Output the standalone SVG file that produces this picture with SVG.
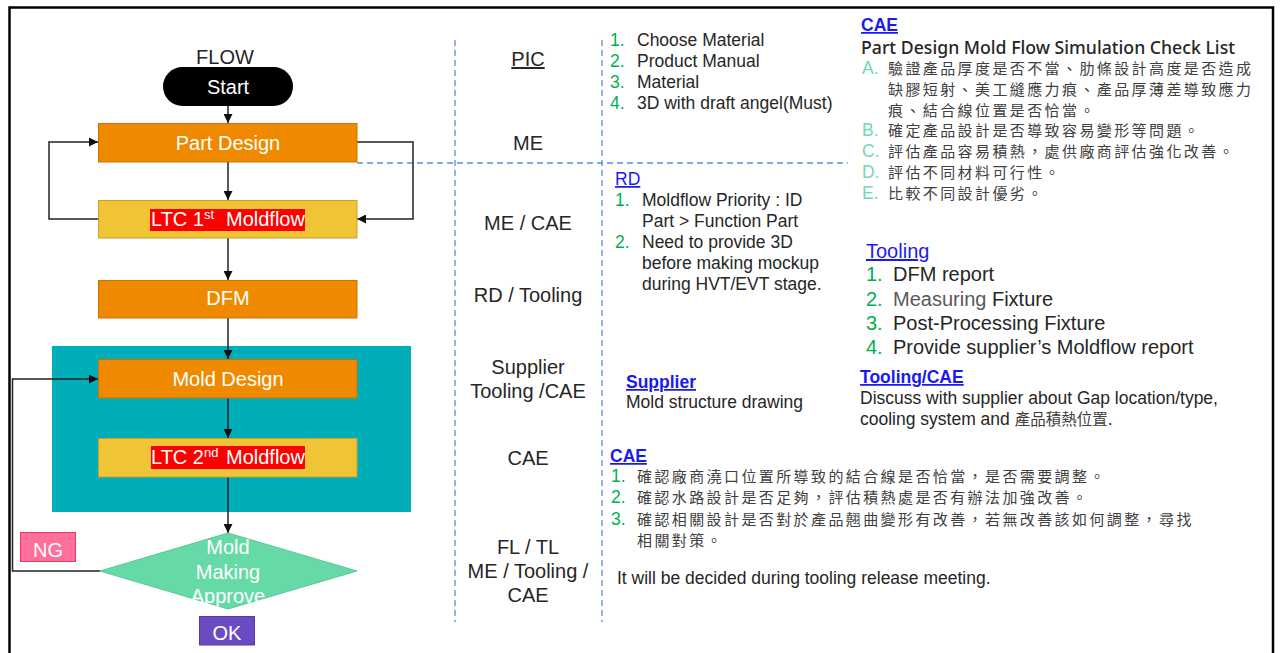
<svg xmlns="http://www.w3.org/2000/svg" width="1280" height="653" viewBox="0 0 1280 653">
<defs>
<style>
.t{font-family:"Liberation Sans",Arial,sans-serif;fill:#262626}
.f20{font-size:20px}
.f17{font-size:17.5px}
.w{fill:#ffffff}
.mid{text-anchor:middle}
.cjk{font-family:"Noto Sans CJK TC","Noto Sans CJK SC",sans-serif;font-size:15px;letter-spacing:2.4px;fill:#404040}
.num{fill:#00B050}
.let{fill:#72D9AC}
.hdr{fill:#1A1AF0;text-decoration:underline}
.b{font-weight:bold}
.conn{fill:none;stroke:#222;stroke-width:1.5}
.dash{fill:none;stroke:#5B8ED6;stroke-width:1.3;stroke-dasharray:6 4}
.orange{fill:#EF8A00;stroke:#C97400;stroke-width:1}
.yellow{fill:#F0C535;stroke:#C9A02E;stroke-width:1}
</style>
<marker id="arr" viewBox="0 0 10 10" refX="10" refY="5" markerWidth="9" markerHeight="9" markerUnits="userSpaceOnUse" orient="auto">
<path d="M0,0 L10,5 L0,10 z" fill="#111"/>
</marker>
</defs>
<rect x="0" y="0" width="1280" height="653" fill="#ffffff"/>
<rect x="9.5" y="7.5" width="1263.5" height="670" fill="none" stroke="#000" stroke-width="2.5"/>

<!-- teal background -->
<rect id="moldGroupBg" x="52" y="346" width="359" height="166" fill="#00AEBA"/>

<!-- dashed dividers -->
<g id="dividers">
<line class="dash" x1="455" y1="40" x2="455" y2="622"/>
<line class="dash" x1="602" y1="40" x2="602" y2="622"/>
<line class="dash" x1="357" y1="163" x2="848" y2="163"/>
</g>

<!-- connectors -->
<g id="connectors">
<line class="conn" x1="228" y1="106" x2="228" y2="123" marker-end="url(#arr)"/>
<line class="conn" x1="228" y1="162" x2="228" y2="200" marker-end="url(#arr)"/>
<line class="conn" x1="228" y1="238" x2="228" y2="280" marker-end="url(#arr)"/>
<line class="conn" x1="228" y1="318" x2="228" y2="359" marker-end="url(#arr)"/>
<line class="conn" x1="228" y1="398" x2="228" y2="438" marker-end="url(#arr)"/>
<line class="conn" x1="228" y1="477" x2="228" y2="533" marker-end="url(#arr)"/>
<polyline class="conn" points="98,219 49,219 49,142 98,142" marker-end="url(#arr)"/>
<polyline class="conn" points="357,142 413,142 413,219 357,219" marker-end="url(#arr)"/>
<polyline class="conn" points="100,571 12.5,571 12.5,379 98,379" marker-end="url(#arr)"/>
</g>

<!-- flow nodes -->
<g id="flowTitle"><text class="t f20 mid" x="225" y="64">FLOW</text></g>
<g id="start">
<rect x="163" y="67" width="130" height="39" rx="19.5" fill="#000"/>
<text class="t f20 mid w" x="228" y="94">Start</text>
</g>
<g id="partDesign">
<rect class="orange" x="98.5" y="123.5" width="258.5" height="38.5"/>
<text class="t f20 mid w" x="228" y="150">Part Design</text>
</g>
<g id="ltc1">
<rect class="yellow" x="98.5" y="200.5" width="258.5" height="37.5"/>
<rect x="150" y="209" width="155" height="22" fill="#FF0000"/>
<text class="t f20 w" x="151" y="226">LTC 1<tspan font-size="13" dy="-7">st</tspan><tspan x="226" dy="7">Moldflow</tspan></text>
</g>
<g id="dfm">
<rect class="orange" x="98.5" y="280.5" width="258.5" height="37.5"/>
<text class="t f20 mid w" x="228" y="305">DFM</text>
</g>
<g id="moldDesign">
<rect class="orange" x="98.5" y="359.5" width="258.5" height="38.5"/>
<text class="t f20 mid w" x="228" y="386">Mold Design</text>
</g>
<g id="ltc2">
<rect class="yellow" x="98.5" y="438.5" width="258.5" height="38.5"/>
<rect x="151" y="446" width="154" height="23" fill="#FF0000"/>
<text class="t f20 w" x="151" y="464">LTC 2<tspan font-size="13" dy="-7">nd</tspan><tspan x="226" dy="7">Moldflow</tspan></text>
</g>
<g id="moldApprove">
<polygon points="100,571 228,533 357,571 228,609" fill="#66DAA6" stroke="#5CC796" stroke-width="1"/>
<text class="t f20 mid w" x="228" y="554">Mold</text>
<text class="t f20 mid w" x="228" y="579">Making</text>
<text class="t f20 mid w" x="228" y="603">Approve</text>
</g>
<g id="ng">
<rect x="20.5" y="532.5" width="55" height="29" fill="#FF6F9B" stroke="#FF3355" stroke-width="1"/>
<text class="t f20 mid w" x="48" y="557">NG</text>
</g>
<g id="ok">
<rect x="199.5" y="616.5" width="55" height="28.5" fill="#6A4BC1" stroke="#5539A8" stroke-width="1"/>
<text class="t f20 mid w" x="227" y="640">OK</text>
</g>

<!-- PIC column -->
<g id="picColumn">
<text class="t f20 mid" x="528" y="66" text-decoration="underline">PIC</text>
<text class="t f20 mid" x="528" y="150">ME</text>
<text class="t f20 mid" x="528" y="230">ME / CAE</text>
<text class="t f20 mid" x="528" y="302">RD / Tooling</text>
<text class="t f20 mid" x="528" y="374">Supplier</text>
<text class="t f20 mid" x="528" y="398">Tooling /CAE</text>
<text class="t f20 mid" x="528" y="465">CAE</text>
<text class="t f20 mid" x="528" y="554">FL / TL</text>
<text class="t f20 mid" x="528" y="578">ME / Tooling /</text>
<text class="t f20 mid" x="528" y="602">CAE</text>
</g>

<!-- PIC list -->
<g id="partDesignItems">
<text class="t f17 num" x="610" y="45.5">1.</text><text class="t f17" x="637" y="45.5">Choose Material</text>
<text class="t f17 num" x="610" y="66.5">2.</text><text class="t f17" x="637" y="66.5">Product Manual</text>
<text class="t f17 num" x="610" y="87.5">3.</text><text class="t f17" x="637" y="87.5">Material</text>
<text class="t f17 num" x="610" y="108.5">4.</text><text class="t f17" x="637" y="108.5">3D with draft angel(Must)</text>
</g>

<!-- CAE check list -->
<g id="caeCheckList">
<text class="t f17 hdr b" x="861" y="31">CAE</text>
<text x="861" y="54" font-family="'Noto Sans','Open Sans',sans-serif" font-size="17.5" font-weight="500" fill="#262626" textLength="374" lengthAdjust="spacingAndGlyphs">Part Design Mold Flow Simulation Check List</text>
<text class="t f17 let" x="862" y="74">A.</text><text class="cjk" x="888" y="74">驗證產品厚度是否不當、肋條設計高度是否造成</text>
<text class="cjk" x="888" y="95">缺膠短射、美工縫應力痕、產品厚薄差導致應力</text>
<text class="cjk" x="888" y="116">痕、結合線位置是否恰當。</text>
<text class="t f17 let" x="862" y="136">B.</text><text class="cjk" x="888" y="136">確定產品設計是否導致容易變形等問題。</text>
<text class="t f17 let" x="862" y="157">C.</text><text class="cjk" x="888" y="157">評估產品容易積熱，處供廠商評估強化改善。</text>
<text class="t f17 let" x="862" y="178">D.</text><text class="cjk" x="888" y="178">評估不同材料可行性。</text>
<text class="t f17 let" x="862" y="199">E.</text><text class="cjk" x="888" y="199">比較不同設計優劣。</text>
</g>

<!-- RD -->
<g id="rdNotes">
<text class="t f17 hdr" x="615" y="185">RD</text>
<text class="t f17 num" x="615" y="206">1.</text><text class="t f17" x="642" y="206">Moldflow Priority : ID</text>
<text class="t f17" x="642" y="227">Part &gt; Function Part</text>
<text class="t f17 num" x="615" y="248">2.</text><text class="t f17" x="642" y="248">Need to provide 3D</text>
<text class="t f17" x="642" y="269">before making mockup</text>
<text class="t f17" x="642" y="290">during HVT/EVT stage.</text>
</g>

<!-- Tooling -->
<g id="toolingNotes">
<text class="t f20 hdr" x="866" y="258">Tooling</text>
<text class="t f20 num" x="866" y="281">1.</text><text class="t f20" x="893" y="281" fill="#595959">DFM report</text>
<text class="t f20 num" x="866" y="306">2.</text><text class="t f20" x="893" y="306"><tspan fill="#595959">Measuring</tspan> Fixture</text>
<text class="t f20 num" x="866" y="330">3.</text><text class="t f20" x="893" y="330">Post-Processing Fixture</text>
<text class="t f20 num" x="866" y="354">4.</text><text class="t f20" x="893" y="354">Provide supplier’s Moldflow report</text>
</g>

<!-- Tooling/CAE -->
<g id="toolingCaeNotes">
<text class="t f17 hdr b" x="860" y="383">Tooling/CAE</text>
<text class="t f17" x="860" y="404">Discuss with supplier about Gap location/type,</text>
<text class="t f17" x="860" y="425">cooling system and <tspan font-family="'Noto Sans CJK TC',sans-serif" font-size="15.5" fill="#404040">產品積熱位置</tspan>.</text>
</g>

<!-- Supplier -->
<g id="supplierNotes">
<text class="t f17 hdr b" x="626" y="388">Supplier</text>
<text class="t f17" x="626" y="408">Mold structure drawing</text>
</g>

<!-- CAE bottom -->
<g id="caeNotes">
<text class="t f17 hdr b" x="610" y="462">CAE</text>
<text class="t f17 num" x="611" y="482">1.</text><text class="cjk" x="637" y="482">確認廠商澆口位置所導致的結合線是否恰當，是否需要調整。</text>
<text class="t f17 num" x="611" y="503">2.</text><text class="cjk" x="637" y="503">確認水路設計是否足夠，評估積熱處是否有辦法加強改善。</text>
<text class="t f17 num" x="611" y="525">3.</text><text class="cjk" x="637" y="525">確認相關設計是否對於產品翹曲變形有改善，若無改善該如何調整，尋找</text>
<text class="cjk" x="637" y="546">相關對策。</text>
</g>

<g id="meetingNote">
<text class="t f17" x="617" y="584">It will be decided during tooling release meeting.</text>
</g>
</svg>
